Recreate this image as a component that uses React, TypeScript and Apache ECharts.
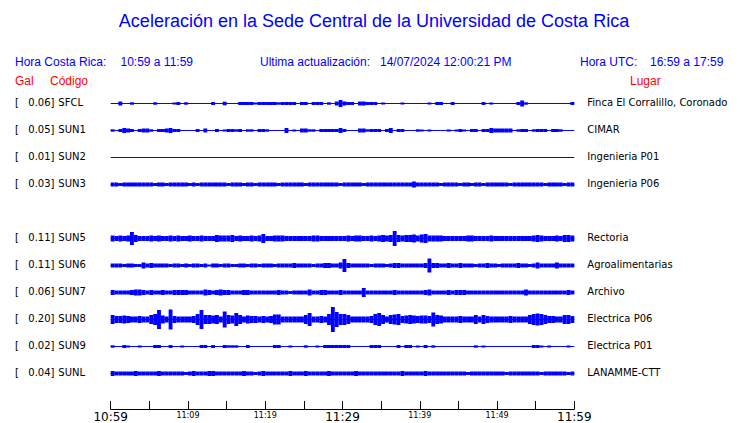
import React, { useEffect, useRef } from "react";
import * as echarts from "echarts";

// ---------- data ----------
const BIN_MIN = 0.5; // each envelope value covers 30 s of the 60-minute window
const X_MAX = 60;
const TIME_LABELS: Record<number, string> = {
  0: "10:59", 10: "11:09", 20: "11:19", 30: "11:29", 40: "11:39", 50: "11:49", 60: "11:59",
};
const MAJOR_TIMES = [0, 30, 60];

const CODES = ["SFCL", "SUN1", "SUN2", "SUN3", "SUN5", "SUN6", "SUN7", "SUN8", "SUN9", "SUNL"];
const ROWS = [0, 1, 2, 3, 5, 6, 7, 8, 9, 10];
const GAL = ["0.06", "0.05", "0.01", "0.03", "0.11", "0.11", "0.06", "0.20", "0.02", "0.04"];
const PLACES = [
  "Finca El Corralillo, Coronado", "CIMAR", "Ingenieria P01", "Ingenieria P06", "Rectoria",
  "Agroalimentarias", "Archivo", "Electrica P06", "Electrica P01", "LANAMME-CTT",
];

// envelope half-amplitudes (relative units), 120 bins of 30 s
const SFCL = [
  0, 0, 1.5, 0, 0, 0.7, 0, 0, 0, 0,
  0, 0.7, 0, 0, 0, 0, 0.5, 1, 0, 0.7,
  0, 0, 0, 0, 0, 0, 1, 0, 0, 1.3,
  0, 0, 0, 1, 1, 1, 1, 0.5, 1, 1,
  1, 1, 1, 0.7, 1, 1, 1, 1, 0, 1,
  1, 0, 1, 1, 1, 0, 0.7, 0, 1.5, 3,
  1.5, 1, 1, 0, 1.5, 1.5, 1, 1, 1, 0,
  0.5, 0, 0, 0, 0, 0.5, 0, 0, 0, 0,
  0, 0, 0.5, 0, 1, 1, 0, 0, 1, 0,
  0, 0, 0, 0, 0, 0, 1, 0, 0.5, 0,
  0, 0, 0, 0, 0, 1, 2.5, 0.7, 0, 0,
  0, 0, 0, 0, 0, 0, 0, 0, 0, 1,
];
const SUN1 = [
  0.7, 0, 1, 2, 1.5, 1, 0, 1, 1.5, 1.5,
  0.7, 0, 1, 1, 1.5, 2, 1, 1, 0, 0,
  0, 0, 1, 0, 1.5, 0, 0, 1, 0, 0.5,
  1, 1, 0.7, 1, 0, 0.7, 0.7, 0, 1, 1,
  0.7, 0, 0, 0, 0, 2, 0, 0.5, 0, 1.5,
  1.5, 0.7, 0.7, 0, 1, 1, 1, 1, 1, 2,
  1, 0, 0, 0, 1.5, 1.5, 0.7, 1, 1, 1,
  0, 1, 2, 0, 1, 1, 0, 0, 0, 0.7,
  0.5, 0, 0.5, 0, 0, 0, 0, 0.5, 0, 0.5,
  1, 0.5, 0, 1, 1, 0, 1, 1, 2, 1.5,
  1.5, 1.5, 1.5, 1.5, 0, 0.7, 1, 1, 0, 0.7,
  1, 1, 1, 0, 1, 1, 0.7, 0, 0, 0,
];
const SUN2 = [
  0, 0, 0, 0, 0, 0, 0, 0, 0, 0,
  0, 0, 0, 0, 0, 0, 0, 0, 0, 0,
  0, 0, 0, 0, 0, 0, 0, 0, 0, 0,
  0, 0, 0, 0, 0, 0, 0, 0, 0, 0,
  0, 0, 0, 0, 0, 0, 0, 0, 0, 0,
  0, 0, 0, 0, 0, 0, 0, 0, 0, 0,
  0, 0, 0, 0, 0, 0, 0, 0, 0, 0,
  0, 0, 0, 0, 0, 0, 0, 0, 0, 0,
  0, 0, 0, 0, 0, 0, 0, 0, 0, 0,
  0, 0, 0, 0, 0, 0, 0, 0, 0, 0,
  0, 0, 0, 0, 0, 0, 0, 0, 0, 0,
  0, 0, 0, 0, 0, 0, 0, 0, 0, 0,
];
const SUN3 = [
  1.5, 1.5, 1, 1.5, 1.5, 1.5, 1.5, 1.5, 1.5, 1.5,
  1.5, 1, 1.5, 1.5, 1, 1.5, 1.5, 1.5, 1.5, 1.5,
  1, 1.5, 1, 1.5, 1.5, 1.5, 1.5, 1.5, 1.5, 1.5,
  1, 1.5, 1.5, 1.5, 1, 1.5, 1.5, 1, 1.5, 1.5,
  1.5, 1.5, 1.5, 1, 1.5, 1.5, 1.5, 1.5, 1.5, 1.5,
  1, 1.5, 1.5, 1.5, 1.5, 1.5, 1.5, 1.5, 1.5, 1,
  1.5, 1.5, 1.5, 1.5, 1.5, 1, 1.5, 1.5, 1.5, 1.5,
  1.5, 1.5, 1.5, 1.5, 1.5, 1.5, 1.5, 1.5, 2.5, 1.5,
  1.5, 1.5, 1.5, 1.5, 1.5, 1, 1.5, 1.5, 1.5, 1.5,
  1, 1.5, 1.5, 1, 1.5, 1.5, 1, 1.5, 1.5, 1.5,
  1.5, 1.5, 1.5, 1, 1.5, 1.5, 1.5, 1.5, 1.5, 1.5,
  1.5, 1.5, 1, 1.5, 1.5, 1.5, 1.5, 1, 1.5, 1.5,
];
const SUN5 = [
  2.5, 2, 2.5, 2, 2.5, 6, 3, 2, 2, 2,
  2.5, 2, 2.5, 2, 2, 2.5, 2, 2.5, 2, 2,
  2.5, 2, 2, 2.5, 2, 2, 2, 3, 2.5, 2.5,
  2.5, 3, 2, 2.5, 2, 2, 2.5, 2, 2.5, 4,
  2, 2, 2.5, 2.5, 2.5, 2, 2, 2, 2, 2,
  2, 2, 2.5, 2.5, 2, 2, 2, 2, 2, 2,
  2, 2.5, 2, 2.5, 2.5, 2, 2, 2.5, 2, 2.5,
  3, 2.5, 3, 7, 3, 2.5, 3, 3, 3.5, 2.5,
  3.5, 4, 2.5, 2.5, 2.5, 2.5, 2, 2, 2, 2,
  2, 2, 2.5, 2.5, 2, 2, 2, 2, 2.5, 2,
  2, 2, 2, 2, 2, 2, 2, 2, 2, 2.5,
  3, 2.5, 2, 2, 2, 2.5, 2, 3, 3, 2.5,
];
const SUN6 = [
  1.5, 1.5, 1.5, 1, 1.5, 1.5, 1, 1, 2.5, 1.5,
  2, 1.5, 1.5, 1.5, 1.5, 1, 1.5, 1.5, 1, 1.5,
  1, 1.5, 1.5, 1, 1.5, 0.5, 1.5, 1.5, 1, 1.5,
  1.5, 1, 1, 1.5, 1.5, 1, 1.5, 1.5, 1, 1.5,
  1.5, 1.5, 1, 1.5, 1.5, 1.5, 1.5, 2, 1.5, 1.5,
  1.5, 1.5, 1, 1.5, 1.5, 2, 2, 1.5, 1.5, 2.5,
  6, 2, 1.5, 1.5, 1.5, 1.5, 1.5, 1, 1.5, 1.5,
  1.5, 1, 1.5, 2, 2, 1.5, 1.5, 1.5, 1.5, 1.5,
  1.5, 2, 6.5, 2, 2, 1.5, 1.5, 2, 1.5, 1.5,
  2, 1.5, 1.5, 1.5, 1, 1.5, 1.5, 2, 1.5, 1.5,
  1, 1.5, 1.5, 1.5, 1.5, 2, 1.5, 1.5, 1, 1.5,
  2.5, 1.5, 1.5, 1.5, 1.5, 2.5, 1.5, 1.5, 1.5, 1.5,
];
const SUN7 = [
  2, 1.5, 1.5, 1.5, 1.5, 2, 2.5, 2.5, 2, 1.5,
  2, 1.5, 1.5, 2, 1.5, 1.5, 2, 2, 2, 2,
  1.5, 1.5, 1.5, 1.5, 2.5, 2, 1.5, 2, 2.5, 2,
  2, 1.5, 1.5, 1.5, 2, 2, 1.5, 1.5, 1.5, 1.5,
  1.5, 1.5, 1.5, 2, 1.5, 1.5, 1, 1.5, 1.5, 1.5,
  1.5, 2.5, 1.5, 1.5, 2, 2, 1.5, 1.5, 1.5, 2,
  1.5, 1.5, 1.5, 1.5, 1.5, 4, 1.5, 1.5, 1.5, 1.5,
  1.5, 1.5, 1.5, 2, 1.5, 1.5, 1.5, 1.5, 1.5, 1.5,
  1.5, 2, 2.5, 1.5, 1.5, 1.5, 1.5, 2, 1.5, 2,
  2, 2, 1.5, 1.5, 1.5, 1.5, 1.5, 1.5, 1.5, 1.5,
  1.5, 1.5, 1.5, 1.5, 1.5, 1.5, 1.5, 2.5, 1.5, 1.5,
  1.5, 1.5, 1.5, 1.5, 1.5, 1.5, 1.5, 1.5, 2, 1.5,
];
const SUN8 = [
  4, 3, 3, 3.5, 3, 2.5, 2.5, 3, 2.5, 2.5,
  4, 5, 9, 3.5, 2.5, 9.5, 3, 2.5, 2.5, 2.5,
  2.5, 3, 5, 9, 4, 4, 3.5, 4, 2.5, 7.5,
  4, 3.5, 6, 4, 2.5, 3.5, 3, 3, 2.5, 3,
  2.5, 3, 4.5, 4.5, 2.5, 2.5, 2.5, 2.5, 2.5, 2.5,
  4, 6, 2.5, 2.5, 3, 2.5, 5, 12, 7, 5,
  5, 4, 2.5, 2.5, 2.5, 2.5, 2.5, 3, 5, 6,
  4, 2.5, 4, 4.5, 5, 3, 3.5, 4, 3.5, 3,
  3.5, 3.5, 3, 6.5, 4, 3.5, 2.5, 2.5, 2.5, 2.5,
  3, 2.5, 2.5, 2.5, 4, 2.5, 4, 3, 2.5, 2.5,
  2.5, 2.5, 2.5, 3, 2.5, 2.5, 2.5, 2.5, 4, 5,
  5.5, 5, 4, 3, 3, 2.5, 2.5, 4, 4, 3,
];
const SUN9 = [
  0.7, 0, 0, 1, 0.5, 0, 0, 0.5, 0, 0,
  0, 1, 1, 0, 0, 1, 0, 0, 0.5, 0,
  0, 0, 0, 1, 1, 0, 1, 0, 0, 1,
  0.7, 0.7, 0.7, 0, 0, 1, 0, 0, 0, 0,
  0, 0, 1, 1, 0, 0, 0.5, 0, 0, 0,
  0.7, 0, 0, 0.5, 0, 1, 1, 1, 1, 1,
  1, 1, 0, 0, 0, 0, 0, 1, 1, 1,
  0, 0, 0, 0, 1, 0, 1, 1, 0, 0.5,
  0, 1, 0, 0.7, 0, 0, 0, 0, 0, 0,
  0, 0, 0, 0, 0.7, 0, 0.5, 0, 0, 0,
  0, 0, 0, 0, 0, 0, 0, 0, 0, 1,
  1, 0.5, 0, 0.5, 0, 0, 0, 0, 0.5, 0,
];
const SUNL = [
  2, 1.5, 1.5, 1.5, 1.5, 1.5, 2, 1.5, 1.5, 1.5,
  1.5, 1.5, 2, 1.5, 1.5, 1.5, 1.5, 1.5, 1.5, 1,
  1.5, 2, 1.5, 1.5, 1.5, 2, 2, 1.5, 1.5, 1.5,
  1.5, 1.5, 1.5, 1.5, 2, 1.5, 1.5, 1, 1.5, 2,
  1.5, 1.5, 1.5, 1.5, 1.5, 1.5, 2, 1.5, 1.5, 1.5,
  2, 1.5, 1.5, 1.5, 1.5, 1.5, 2, 1.5, 1.5, 1.5,
  1.5, 1.5, 1.5, 2, 1.5, 1.5, 1.5, 1.5, 1.5, 1.5,
  1.5, 1.5, 1.5, 1.5, 1.5, 2, 1.5, 1.5, 1.5, 1.5,
  1.5, 2, 1.5, 1.5, 1.5, 1.5, 1.5, 1.5, 1.5, 1.5,
  1.5, 1.5, 1, 1.5, 1.5, 1.5, 1.5, 1.5, 1.5, 1.5,
  1.5, 1.5, 1, 1.5, 1.5, 1.5, 1.5, 1.5, 1.5, 1.5,
  1.5, 1, 1.5, 1.5, 1.5, 1.5, 1.5, 1.5, 1, 1.5,
];
const TRACES = [SFCL, SUN1, SUN2, SUN3, SUN5, SUN6, SUN7, SUN8, SUN9, SUNL];

const TITLE = "Aceleración en la Sede Central de la Universidad de Costa Rica";

// ---------- component ----------
export default function App() {
  const ref = useRef<HTMLDivElement>(null);

  useEffect(() => {
    if (!ref.current) return;
    const chart = echarts.init(ref.current, null, { renderer: "svg" });
    const W = 740;
    const H = 423;
    const BLUE = "#0000ff";
    const RED = "#ff0000";
    const GRID_LEFT = 110.7;
    const GRID_RIGHT = W - 574.3;
    const GRID_TOP = 90;
    const GRID_BOTTOM = 14;
    const Y_MIN = -0.5;
    const Y_MAX = 11.315;
    const ROW_PX = (H - GRID_TOP - GRID_BOTTOM) / (Y_MAX - Y_MIN);
    const rowPx = (r: number) => GRID_TOP + (r - Y_MIN) * ROW_PX;
    const AMP = 1 / ROW_PX; // 1 amplitude unit -> row fraction

    const envData: number[][] = [];
    TRACES.forEach((tr, ti) =>
      tr.forEach((a, bi) => {
        if (a > 0) envData.push([bi * BIN_MIN, ROWS[ti], a]);
      })
    );
    const baseData = ROWS.map((r) => [0, r]);

    const labelFont = '10px "DejaVu Sans"';
    const headFont = '12px "Liberation Sans"';
    const graphics: any[] = [
      { type: "text", x: 374, y: 21, style: { text: TITLE, font: '18px "Liberation Sans"', fill: BLUE, align: "center", verticalAlign: "middle" } },
      { type: "text", x: 15, y: 61.5, style: { text: "Hora Costa Rica:", font: headFont, fill: BLUE, verticalAlign: "middle" } },
      { type: "text", x: 120.5, y: 61.5, style: { text: "10:59 a 11:59", font: headFont, fill: BLUE, verticalAlign: "middle" } },
      { type: "text", x: 260, y: 61.5, style: { text: "Ultima actualización:", font: headFont, fill: BLUE, verticalAlign: "middle" } },
      { type: "text", x: 380, y: 61.5, style: { text: "14/07/2024 12:00:21 PM", font: headFont, fill: BLUE, verticalAlign: "middle" } },
      { type: "text", x: 580, y: 61.5, style: { text: "Hora UTC:", font: headFont, fill: BLUE, verticalAlign: "middle" } },
      { type: "text", x: 650, y: 61.5, style: { text: "16:59 a 17:59", font: headFont, fill: BLUE, verticalAlign: "middle" } },
      { type: "text", x: 15, y: 81, style: { text: "Gal", font: headFont, fill: RED, verticalAlign: "middle" } },
      { type: "text", x: 50, y: 81, style: { text: "Código", font: headFont, fill: RED, verticalAlign: "middle" } },
      { type: "text", x: 630, y: 81, style: { text: "Lugar", font: headFont, fill: RED, verticalAlign: "middle" } },
    ];
    ROWS.forEach((r, i) => {
      const y = rowPx(r) - 0.5;
      graphics.push(
        { type: "text", x: 15, y, style: { text: "[", font: labelFont, fill: "#000", verticalAlign: "middle" } },
        { type: "text", x: 54.5, y, style: { text: GAL[i] + "]", font: labelFont, fill: "#000", align: "right", verticalAlign: "middle" } },
        { type: "text", x: 58.3, y, style: { text: CODES[i], font: labelFont, fill: "#000", verticalAlign: "middle" } },
        { type: "text", x: 587.3, y, style: { text: PLACES[i], font: labelFont, fill: "#000", verticalAlign: "middle" } }
      );
    });

    chart.setOption({
      animation: false,
      backgroundColor: "#ffffff",
      grid: { left: GRID_LEFT, right: GRID_RIGHT, top: GRID_TOP, bottom: GRID_BOTTOM, containLabel: false },
      xAxis: {
        type: "value",
        position: "bottom",
        min: 0,
        max: X_MAX,
        interval: 5,
        splitLine: { show: false },
        axisLine: { onZero: false, lineStyle: { color: "#000", width: 1 } },
        axisTick: { inside: true, length: 8, lineStyle: { color: "#000", width: 1 } },
        axisLabel: {
          margin: 1,
          showMinLabel: true,
          showMaxLabel: true,
          hideOverlap: false,
          formatter: (v: number) => {
            const t = TIME_LABELS[v];
            if (!t) return "";
            return MAJOR_TIMES.includes(v) ? "{b|" + t + "}" : "{s|" + t + "}";
          },
          rich: {
            b: { fontSize: 12, lineHeight: 13, fontFamily: "DejaVu Sans", color: "#000" },
            s: { fontSize: 8, lineHeight: 9, fontFamily: "DejaVu Sans", color: "#000", padding: [1, 0, 0, 0] },
          },
        },
      },
      yAxis: { type: "value", inverse: true, min: Y_MIN, max: Y_MAX, show: false },
      graphic: graphics,
      series: [
        {
          type: "custom",
          name: "base",
          data: baseData,
          clip: false,
          silent: true,
          renderItem: (_p: any, api: any) => {
            const r = api.value(1);
            const a = api.coord([0, r]);
            const b = api.coord([X_MAX, r]);
            return {
              type: "line",
              shape: { x1: a[0], y1: a[1], x2: b[0], y2: b[1] },
              style: { stroke: BLUE, lineWidth: 1 },
            };
          },
        },
        {
          type: "custom",
          name: "envelope",
          data: envData,
          clip: false,
          silent: true,
          renderItem: (_p: any, api: any) => {
            const t0 = api.value(0);
            const r = api.value(1);
            const amp = api.value(2);
            const p0 = api.coord([t0, r]);
            const p1 = api.coord([t0 + BIN_MIN, r]);
            const half = api.size([0, amp * AMP])[1];
            return {
              type: "rect",
              shape: { x: p0[0], y: p0[1] - half - 0.5, width: p1[0] - p0[0], height: 2 * half + 1 },
              style: { fill: BLUE },
            };
          },
        },
      ],
    });

    return () => chart.dispose();
  }, []);

  return <div ref={ref} style={{ position: "absolute", left: 0, top: 0, width: 740, height: 423 }} />;
}
